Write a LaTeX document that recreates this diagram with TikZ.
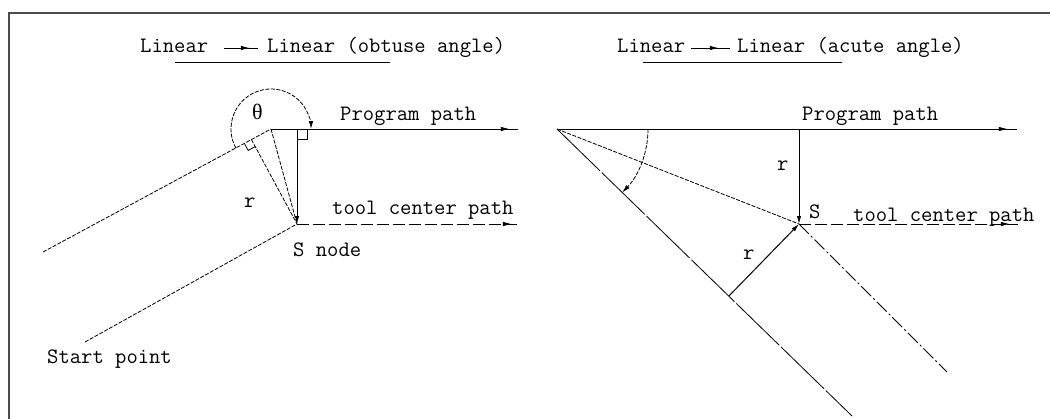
\documentclass[tikz,border=0pt]{standalone}
\usepackage{fontspec}
\newfontfamily\thetafont{Liberation Serif}
\usetikzlibrary{arrows.meta,calc,positioning,decorations.markings}

\begin{document}
\begin{tikzpicture}[x=1pt,y=-1pt,
    every node/.style={font=\ttfamily\fontsize{22}{22}\selectfont,inner sep=0pt,anchor=base west},
    path line/.style={line width=1pt},
    fine dash/.style={line width=0.8pt,dash pattern=on 4pt off 1.5pt},
    long dash/.style={line width=1pt,dash pattern=on 12pt off 4pt},
    long gap/.style={line width=0.8pt,dash pattern=on 60pt off 2.5pt},
    dash dot/.style={line width=0.8pt,dash pattern=on 14pt off 3pt on 2pt off 3pt},
    small tip/.style={-{Latex[length=8pt,width=4.5pt]}},
    tip at/.style={postaction={decorate},decoration={markings,
        mark=at position #1 with {\arrow{Latex[length=9pt,width=4.5pt]}}}}]
    \useasboundingbox (0,0) rectangle (1050,418);
    \draw[line width=2pt,black!70] (9,420) -- (9,13) -- (1052,13);

    % obtuse angle
    \node (tl1a) at (140,52) {Linear};
    \node (tl1b) at (267,52) {Linear (obtuse angle)};
    \draw[path line,tip at=0.76] ([shift={(16,-4)}]tl1a.base east) -- ([shift={(-9,-4)}]tl1b.base west);
    \draw[path line] (175,62) -- (390,62);

    \coordinate (C1) at (271,129);
    \coordinate (A1) at (43,252);
    \coordinate (S1) at (297,224);
    \coordinate (V1) at (297,129);
    \coordinate (P1) at (518,129);
    \coordinate (T1) at (519,224);
    \coordinate (B1) at (85,342);
    \coordinate (F1) at ($(A1)!(S1)!(C1)$);
    \coordinate (M1) at ($(F1)!8pt!(S1)$);
    \coordinate (N1) at ($(F1)!8pt!(A1)$);

    \draw[fine dash] (A1) -- (C1);
    \draw[path line,tip at=0.967] (C1) -- (P1);
    \draw[path line,small tip] (V1) -- (S1);
    \draw[fine dash] (C1) -- (S1);
    \draw[fine dash] (F1) -- (S1);
    \draw[fine dash] (B1) -- (S1);
    \draw[long dash,tip at=0.968] (S1) -- (T1);
    \draw[fine dash,small tip] ($(C1)+(151.7:40)$) arc[start angle=151.7,end angle=360,radius=40];
    \draw[path line] ($(V1)+(0,10)$) -- ++(10,0) -- ++(0,-10);
    \draw[line width=0.8pt] (M1) -- ($(M1)+(N1)-(F1)$) -- (N1);

    \node (theta) at (252,119) {\thetafont θ};
    \node (prog1) at (340,120) {Program path};
    \node (r1) at (244,207) {r};
    \node (tool1) at (332,214) {tool center path};
    \node (snode) at (293,256) {S node};
    \node (start) at (47,363) {Start point};

    % acute angle
    \node (tl2a) at (617,52) {Linear};
    \node (tl2b) at (737,52) {Linear (acute angle)};
    \draw[path line,tip at=0.71] ([shift={(6,-4)}]tl2a.base east) -- ([shift={(-7,-4)}]tl2b.base west);
    \draw[path line] (643,62) -- (842,62);

    \coordinate (C2) at (557,129);
    \coordinate (E2) at (852,416);
    \coordinate (S2) at (799,224);
    \coordinate (V2) at (799,129);
    \coordinate (P2) at (1017,129);
    \coordinate (T2) at (1018,224);
    \coordinate (D2) at (947,372);
    \coordinate (F2) at ($(C2)!(S2)!(E2)$);

    \draw[path line,tip at=0.98] (C2) -- (P2);
    \draw[long gap] (C2) -- (E2);
    \draw[fine dash] (C2) -- (S2);
    \draw[path line,small tip] (V2) -- (S2);
    \draw[path line,small tip] (F2) -- (S2);
    \draw[dash dot] (S2) -- (D2);
    \draw[long dash,tip at=0.963] (S2) -- (T2);
    \draw[fine dash,small tip] ($(C2)+(0:91)$) arc[start angle=0,end angle=44.2,radius=91];

    \node (prog2) at (802,120) {Program path};
    \node (r2) at (777,170) {r};
    \node (s2) at (809,218) {S};
    \node (tool2) at (853,221) {tool center path};
    \node (r3) at (743,259) {r};
\end{tikzpicture}
\end{document}
